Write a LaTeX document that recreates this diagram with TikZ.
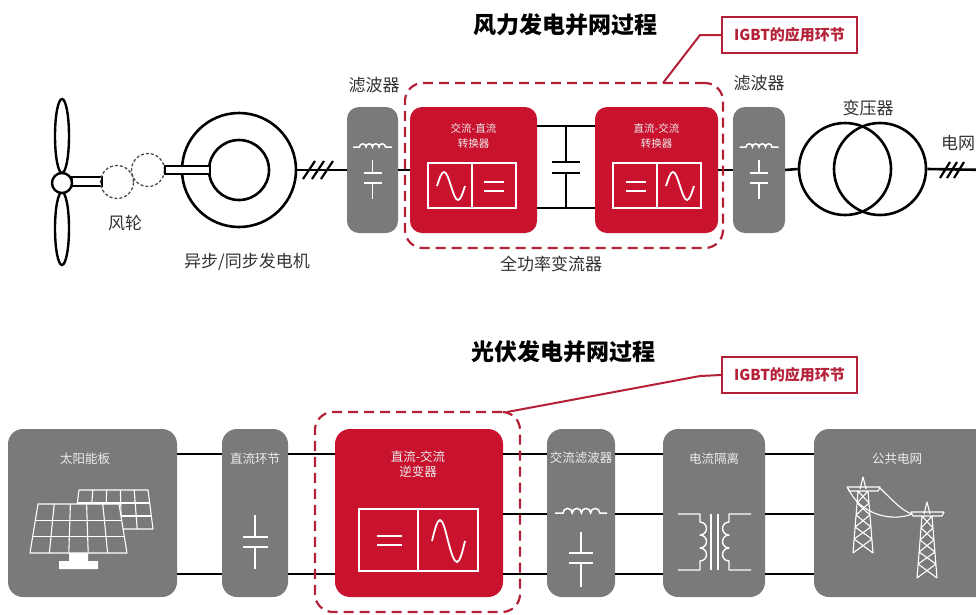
\documentclass[tikz,border=0pt]{standalone}
\usepackage{fontspec}
\setmainfont{Noto Sans CJK SC}
\usetikzlibrary{calc}

\definecolor{convred}{RGB}{200,18,46}
\definecolor{igbtred}{RGB}{180,32,56}
\definecolor{boxgray}{RGB}{122,122,122}
\definecolor{boxtext}{RGB}{236,236,236}
\definecolor{lbl}{RGB}{50,50,50}

\tikzset{
  wire/.style={draw=black, line width=2.6pt},
  ring/.style={circle, draw=black, line width=2.6pt, inner sep=0pt},
  graybox/.style={fill=boxgray, rounded corners=12pt, inner sep=0pt},
  redbox/.style={fill=convred, rounded corners=12pt, inner sep=0pt},
  zone/.style={draw=igbtred, line width=2.2pt, dash pattern=on 10pt off 6pt, rounded corners=18pt, inner sep=0pt},
  tag/.style={draw=igbtred, line width=2pt, fill=white, text=igbtred, inner sep=0pt,
    minimum width=135pt, minimum height=36pt, font=\fontsize{15}{17}\selectfont\bfseries},
  tagline/.style={draw=igbtred, line width=2pt},
  lbltext/.style={inner sep=0pt, text=lbl, font=\fontsize{17}{20}\selectfont},
  titletext/.style={inner sep=0pt, text=black, font=\fontsize{23}{26}\selectfont\bfseries},
  boxtxt/.style={inner sep=0pt, text=boxtext, align=center, font=\fontsize{10.5}{15}\selectfont},
  boxtxtb/.style={inner sep=0pt, text=boxtext, align=center, font=\fontsize{12.5}{14.5}\selectfont},
  sym/.style={draw=white, line width=1.8pt},
  thin sym/.style={draw=white, line width=1.1pt, line join=round},
  % LC filter glyph: inductor above a capacitor
  lcfilter/.pic={
    \draw[sym, line width=1.5pt] (-19.5,-23) -- (-13,-23)
      arc[start angle=180,end angle=360,radius=3.25]
      arc[start angle=180,end angle=360,radius=3.25]
      arc[start angle=180,end angle=360,radius=3.25]
      arc[start angle=180,end angle=360,radius=3.25] -- (19.5,-23);
    \draw[sym, line width=1.5pt] (0,-10) -- (0,3) (-9,3) -- (9,3) (-9,13) -- (9,13) (0,13) -- (0,29);
  },
  % transmission tower
  pylon/.pic={
    \draw[thin sym] (-3,12) -- (0,0) -- (3,12)
      (-16,10) -- (17,10) -- (15,14) -- (-14,14) -- cycle
      (-5,14) -- (-10,76) (5,14) -- (10,76)
      (-5,14) -- (5.97,26) (5,14) -- (-5.97,26)
      (-5.97,26) -- (6.94,38) (5.97,26) -- (-6.94,38)
      (-6.94,38) -- (7.9,50) (6.94,38) -- (-7.9,50)
      (-7.9,50) -- (8.87,62) (7.9,50) -- (-8.87,62)
      (-8.87,62) -- (10,76) (8.87,62) -- (-10,76);
  }
}

\begin{document}
\begin{tikzpicture}[x=1pt,y=-1pt]
\useasboundingbox (0,0) rectangle (976,614);
\clip (0,0) rectangle (976,614);

% ================= wind power =================
\node[titletext] (title1) at (565,25) {风力发电并网过程};

% rotor
\draw[line width=2.4pt] (62,136) ellipse [x radius=7, y radius=37];
\draw[line width=2.4pt] (62,228.5) ellipse [x radius=7, y radius=36.5];
\node[draw=black, fill=white, line width=2pt, minimum width=30pt, minimum height=9pt, inner sep=0pt] (shaft1) at (87,181.5) {};
\node[circle, draw=black, fill=white, line width=2.4pt, minimum size=20pt, inner sep=0pt] (hub) at (62,183) {};

% gearbox
\node[circle, draw=black!70, line width=1.3pt, dash pattern=on 3pt off 2pt, minimum size=33pt, inner sep=0pt] (gear1) at (117,182) {};
\node[circle, draw=black!70, line width=1.3pt, dash pattern=on 3pt off 2pt, minimum size=33pt, inner sep=0pt] (gear2) at (148,170) {};
\node[lbltext] (l-rotor) at (125,223) {风轮};

% generator
\node[ring, minimum size=114pt] (gen) at (239,170) {};
\node[ring, minimum size=60pt] (genin) at (239,170) {};
\node[draw=black, fill=white, line width=2pt, minimum width=45pt, minimum height=8pt, inner sep=0pt] (shaft2) at (187.5,170) {};
\node[lbltext] (l-gen) at (247,262) {异步/同步发电机};

% filters and converters
\node[graybox, minimum width=51pt, minimum height=126pt] (filt1) at (372.5,170) {};
\pic at (filt1.center) {lcfilter};
\node[lbltext] (l-f1) at (374,85) {滤波器};

\node[redbox, minimum width=127pt, minimum height=126pt] (red1) at (473.5,170) {};
\node[boxtxt] at (473.5,135.5) {交流-直流\\转换器};
\node[redbox, minimum width=123pt, minimum height=126pt] (red2) at (656.5,170) {};
\node[boxtxt] at (656.5,135.5) {直流-交流\\转换器};

\node[graybox, minimum width=52pt, minimum height=126pt] (filt2) at (759,170) {};
\pic at (filt2.center) {lcfilter};
\node[lbltext] (l-f2) at (759,83) {滤波器};

% converter glyphs
\draw[sym] (428,163) rectangle (516,208) (472,163) -- (472,208);
\draw[sym] (437,186) sin (444,172) cos (451,186) sin (458,200) cos (465,186);
\draw[sym] (484,182) -- (504,182) (484,191) -- (504,191);
\draw[sym] (613,163) rectangle (701,208) (657,163) -- (657,208);
\draw[sym] (626,182) -- (646,182) (626,191) -- (646,191);
\draw[sym] (666,186) sin (673,172) cos (680,186) sin (687,200) cos (694,186);

% transformer
\node[ring, minimum size=92pt] (tr1) at (845,169) {};
\node[ring, minimum size=92pt] (tr2) at (880,169) {};
\node[lbltext] (l-tr) at (868,108) {变压器};
\node[lbltext, anchor=west] (l-grid) at (941,143) {电网};
\coordinate (gridend) at (990,170);

% power path
\draw[wire] (gen.east) -- (filt1.west);
\draw[wire] (filt1.east) -- (red1.west);
\draw[wire] (red1.east |- 0,126) -- (red2.west |- 0,126);
\draw[wire] (red1.east |- 0,208) -- (red2.west |- 0,208);
\draw[wire] (566,126) -- (566,162) (552,162) -- (580,162) (552,173) -- (580,173) (566,173) -- (566,208);
\draw[wire] (red2.east) -- (filt2.west);
\draw[wire] (filt2.east) -- (tr1.west);
\draw[wire] (tr2.east) -- (gridend);
\foreach \x in {309,318,327} \draw[line width=2.2pt] (\x-6,179) -- (\x+6,161);
\foreach \x in {945,952,959} \draw[line width=2.2pt] (\x-5,178) -- (\x+5,162);

% IGBT zone
\node[zone, minimum width=318pt, minimum height=165pt] (zone1) at (564,165.5) {};
\node[lbltext] (l-conv) at (551,264) {全功率变流器};
\node[tag] (tag1) at (789.5,35) {IGBT的应用环节};
\coordinate (tip1) at (663,83);
\draw[tagline] (tag1.west) -- (700,35) -- (tip1);

% ================= photovoltaic =================
\node[titletext] (title2) at (563,352) {光伏发电并网过程};

\node[graybox, rounded corners=15pt, minimum width=169pt, minimum height=168pt] (solar) at (92.5,513) {};
\node[graybox, rounded corners=15pt, minimum width=66pt, minimum height=168pt] (dcl) at (255,513) {};
\node[redbox, rounded corners=15pt, minimum width=168pt, minimum height=168pt] (inv) at (419,513) {};
\node[graybox, rounded corners=15pt, minimum width=68pt, minimum height=168pt] (acf) at (581,513) {};
\node[graybox, rounded corners=15pt, minimum width=102pt, minimum height=168pt] (iso) at (714,513) {};
\node[graybox, rounded corners=15pt, minimum width=180pt, minimum height=168pt] (grid) at (904,513) {};

\foreach \a/\b in {solar/dcl, dcl/inv, inv/acf, acf/iso, iso/grid} {
  \draw[wire] (\a.east |- 0,454) -- (\b.west |- 0,454);
  \draw[wire] (\a.east |- 0,574) -- (\b.west |- 0,574);
}
\foreach \a/\b in {inv/acf, acf/iso, iso/grid}
  \draw[wire] (\a.east |- 0,514) -- (\b.west |- 0,514);

\node[boxtxtb] at (85,459) {太阳能板};
\node[boxtxtb] at (255,459) {直流环节};
\node[boxtxtb] at (418,464) {直流-交流\\逆变器};
\node[boxtxtb] at (581,458) {交流滤波器};
\node[boxtxtb] at (714,459) {电流隔离};
\node[boxtxtb] at (897,459) {公共电网};

% solar panels
\coordinate (bTL) at (79,490); \coordinate (bTR) at (148,490);
\coordinate (bBL) at (74,529); \coordinate (bBR) at (153,529);
\draw[thin sym] (bTL) -- (bTR) -- (bBR) -- (bBL) -- cycle;
\foreach \t in {0.2,0.4,0.6,0.8} \draw[thin sym] ($(bTL)!\t!(bTR)$) -- ($(bBL)!\t!(bBR)$);
\foreach \t in {0.333,0.667} \draw[thin sym] ($(bTL)!\t!(bBL)$) -- ($(bTR)!\t!(bBR)$);
\coordinate (fTL) at (38,504); \coordinate (fTR) at (119,504);
\coordinate (fBL) at (30,553); \coordinate (fBR) at (127,553);
\filldraw[thin sym, fill=boxgray] (fTL) -- (fTR) -- (fBR) -- (fBL) -- cycle;
\foreach \t in {0.2,0.4,0.6,0.8} \draw[thin sym] ($(fTL)!\t!(fTR)$) -- ($(fBL)!\t!(fBR)$);
\foreach \t in {0.333,0.667} \draw[thin sym] ($(fTL)!\t!(fBL)$) -- ($(fTR)!\t!(fBR)$);
\fill[white] (69,553) rectangle (88,561) (59,561) rectangle (98,569);

% DC link capacitor
\draw[sym, line width=1.5pt] (255,515) -- (255,537) (243,537) -- (268,537) (243,547) -- (268,547) (255,547) -- (255,569);

% inverter glyph
\draw[sym] (359,509) rectangle (478,571) (418,509) -- (418,571);
\draw[sym] (377,536) -- (402,536) (377,545) -- (402,545);
\draw[sym] (432,541) sin (440,520) cos (448,541) sin (457,562) cos (465,541);

% AC filter glyph
\draw[sym, line width=1.5pt] (555,513) -- (563,513)
  arc[start angle=180,end angle=360,radius=4.6]
  arc[start angle=180,end angle=360,radius=4.6]
  arc[start angle=180,end angle=360,radius=4.6]
  arc[start angle=180,end angle=360,radius=4.6] -- (607,513);
\draw[sym, line width=1.5pt] (581,532) -- (581,553) (569,553) -- (593,553) (569,563) -- (593,563) (581,563) -- (581,587);

% isolation transformer glyph
\draw[thin sym, line width=1.4pt] (678,514) -- (700,514) -- (700,522)
  arc[start angle=270,end angle=450,radius=6.5]
  arc[start angle=270,end angle=450,radius=6.5]
  arc[start angle=270,end angle=450,radius=6.5] -- (700,570) -- (678,570);
\draw[thin sym, line width=1.4pt] (751,514) -- (729,514) -- (729,522)
  arc[start angle=270,end angle=90,radius=6.5]
  arc[start angle=270,end angle=90,radius=6.5]
  arc[start angle=270,end angle=90,radius=6.5] -- (729,570) -- (751,570);
\draw[thin sym, line width=1.4pt] (711,514) -- (711,570) (718,514) -- (718,570);

% transmission towers
\pic at (863,477) {pylon};
\pic at (927,502) {pylon};
\draw[thin sym] (848,488) .. controls (860,515) and (892,522) .. (912,514);
\draw[thin sym] (880,488) .. controls (895,503) and (903,511) .. (912,514);

% IGBT zone
\node[zone, minimum width=205pt, minimum height=200pt] (zone2) at (417.5,512) {};
\node[tag] (tag2) at (789.5,375) {IGBT的应用环节};
\coordinate (tip2) at (507,412);
\draw[tagline] (tag2.west) -- (700,376) -- (tip2);

\end{tikzpicture}
\end{document}
